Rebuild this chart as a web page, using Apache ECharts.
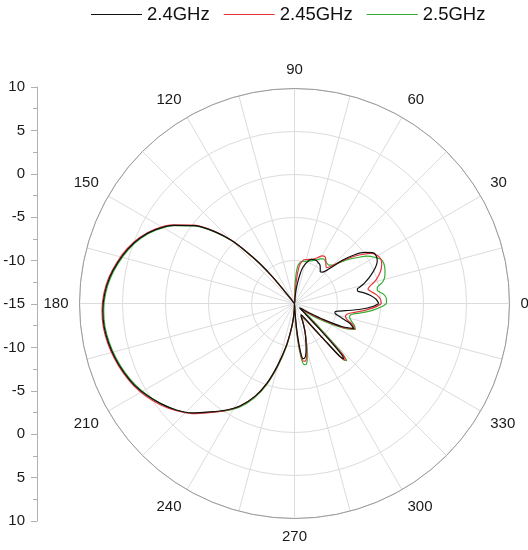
<!DOCTYPE html>
<html>
<head>
<meta charset="utf-8">
<script src="https://cdn.jsdelivr.net/npm/echarts@6/dist/echarts.min.js"></script>
<style>
html,body{margin:0;padding:0;background:#fff;}
#chart{width:528px;height:550px;}
</style>
</head>
<body>
<div id="chart"></div>
<script>
// ---- data (angle in degrees, gain in dB) ----
var seriesNames = ['2.4GHz', '2.45GHz', '2.5GHz'];
var angles = [0,3,6,9,11,13,14,16,20,24,27,30,
  33,36,39,42,45,48,51,54,57,60,63,66,69,72,75,78,81,83,85,87,89,91,
  95,100,110,120,126,128,
  129.5,131,133,135,138,142,147,152,157,162,167,172,177,182,187,192,197,202,207,212,217,222,227,232,237,242,247,251,255,259,262,265,268,
  271,273,275,277,279,281,283,285,287,289,291,294,297,
  300,302,304,306,308,309.5,310.5,311.5,312.5,313.5,314.5,316,318,320,
  323,326,328,331,334,337,340,343,346,348,350,352,355,358,360];
var gain24 = [-5.2,-5.5,-6.1,-6.9,-7.5,-7.5,-7.2,-6.6,-5.6,-4.7,-4.2,-4.0,
  -4.15,-4.9,-6.0,-7.5,-9.3,-10.1,-10.25,-9.9,-9.6,-9.5,-9.4,-9.4,-9.5,-9.8,-10.3,-11.0,-12.3,-13.2,-14.3,-15,-15,-15,
  -15,-15,-15,-15,-15,-14.2,
  -11.0,-8.8,-6.6,-4.6,-2.5,-0.3,1.7,3.3,4.5,5.4,6.1,6.7,7.1,7.3,7.3,7.1,6.8,6.4,5.9,5.2,4.4,3.5,2.4,1.0,-0.2,-1.5,-3.3,-5.2,-7.7,-10.0,-11.7,-13.0,-14.2,
  -15,-14.2,-11.8,-9.4,-8.5,-8.6,-9.1,-9.8,-10.5,-11.1,-11.7,-12.6,-13.3,
  -13.5,-13.4,-13.1,-12.5,-11.2,-9.3,-7.0,-6.4,-6.7,-8.8,-11.3,-13.2,-14.0,-14.2,
  -14.2,-13.5,-12.8,-11.2,-8.9,-7.5,-8.1,-9.3,-10.1,-10.2,-9.9,-9.0,-7.3,-5.8,-5.2];
var gain245 = [-4.9,-5.0,-5.4,-6.0,-6.3,-6.0,-5.7,-5.15,-4.4,-3.9,-3.7,-3.85,
  -4.3,-5.3,-6.4,-7.6,-8.8,-9.4,-9.2,-8.8,-8.5,-8.6,-9.0,-9.3,-9.5,-9.6,-9.7,-9.8,-10.2,-10.7,-12.0,-13.8,-15,-15,
  -15,-15,-15,-15,-15,-14.3,
  -11.2,-8.9,-6.6,-4.5,-2.4,-0.2,1.8,3.4,4.6,5.5,6.2,6.8,7.2,7.4,7.4,7.2,6.9,6.5,6.0,5.35,4.55,3.6,2.5,1.1,-0.15,-1.5,-3.3,-5.2,-7.6,-9.9,-11.6,-13.0,-14.3,
  -15,-13.8,-11.3,-9.0,-8.2,-8.2,-8.7,-9.5,-10.3,-11.0,-11.6,-12.5,-13.2,
  -13.4,-13.2,-12.8,-12.2,-11.0,-9.1,-7.0,-6.2,-6.3,-7.8,-10.3,-12.6,-13.7,-14.0,
  -14.0,-13.0,-12.1,-10.6,-8.6,-7.4,-7.8,-8.6,-8.9,-8.8,-8.5,-7.8,-6.6,-5.4,-4.9];
var gain25 = [-4.3,-4.3,-4.6,-5.25,-5.2,-4.65,-4.4,-4.1,-3.8,-3.62,-3.7,-4.25,
  -4.9,-5.9,-6.8,-7.8,-8.7,-9.0,-9.0,-8.9,-8.8,-9.0,-9.3,-9.5,-9.7,-9.8,-9.9,-10.0,-10.1,-10.3,-10.6,-11.6,-13.4,-15,
  -15,-15,-15,-15,-15,-14.4,
  -11.3,-9.0,-6.8,-4.7,-2.6,-0.4,1.6,3.2,4.4,5.3,6.0,6.6,7.0,7.2,7.2,7.0,6.7,6.3,5.8,5.15,4.4,3.5,2.45,1.05,-0.1,-1.35,-3.1,-5.0,-7.4,-9.7,-11.5,-13.0,-14.4,
  -15,-13.2,-10.6,-8.6,-7.8,-7.8,-8.4,-9.3,-10.2,-11.0,-11.7,-12.5,-13.0,
  -13.2,-13.0,-12.7,-12.2,-11.0,-9.4,-7.4,-6.2,-6.0,-6.8,-8.5,-11.0,-12.8,-13.5,
  -13.6,-12.3,-11.5,-10.0,-8.3,-7.3,-7.6,-8.1,-8.4,-8.4,-8.0,-7.2,-5.9,-4.8,-4.3];
var angleTickLabels = ['0','30','60','90','120','150','180','210','240','270','300','330'];
var leftTickLabels = ['10','5','0','-5','-10','-15','-10','-5','0','5','10'];
var colors = ['#111111', '#e3363a', '#35ad35'];

function pairs(vals) {
  var out = [];
  for (var i = 0; i < angles.length; i++) out.push([vals[i], angles[i]]);
  return out;
}

var FONT = '"Liberation Sans", Arial, Helvetica, sans-serif';
var chart = echarts.init(document.getElementById('chart'), null, {renderer: 'canvas'});
var gains = [gain24, gain245, gain25];
var series = [];
for (var k = 2; k >= 0; k--) {
  series.push({
    name: seriesNames[k],
    type: 'line',
    coordinateSystem: 'polar',
    polarIndex: 0,
    showSymbol: false,
    symbol: 'none',
    smooth: 0.25,
    data: pairs(gains[k]),
    lineStyle: {color: colors[k], width: 1.2},
    itemStyle: {color: colors[k]},
    animation: false,
    z: 3
  });
}

chart.setOption({
  animation: false,
  backgroundColor: '#ffffff',
  textStyle: {fontFamily: FONT},
  legend: {
    data: seriesNames,
    top: 0,
    left: 86,
    icon: 'rect',
    itemWidth: 51,
    itemHeight: 1,
    itemGap: 14,
    textStyle: {fontSize: 18.5, color: '#111', fontFamily: FONT}
  },
  polar: {center: [294.5, 303.5], radius: 215},
  angleAxis: {
    type: 'value',
    min: 0,
    max: 360,
    interval: 15,
    startAngle: 0,
    clockwise: false,
    axisLine: {show: true, lineStyle: {color: '#9a9a9a', width: 1}},
    axisTick: {show: false},
    axisLabel: {
      margin: 11,
      fontSize: 15,
      color: '#1a1a1a',
      fontFamily: FONT,
      formatter: function (v) {
        if (v % 30 !== 0 || v >= 360) return '';
        return angleTickLabels[v / 30];
      }
    },
    splitLine: {show: true, lineStyle: {color: '#dcdcdc', width: 1}}
  },
  radiusAxis: {
    type: 'value',
    min: -15,
    max: 10,
    interval: 5,
    axisLine: {show: false},
    axisTick: {show: false},
    axisLabel: {show: false},
    splitLine: {show: true, lineStyle: {color: '#dcdcdc', width: 1}}
  },
  grid: {left: 37, top: 87, height: 434, width: 10},
  xAxis: {type: 'value', show: false, gridIndex: 0},
  yAxis: {
    type: 'value',
    gridIndex: 0,
    min: -25,
    max: 25,
    interval: 5,
    position: 'left',
    axisLine: {show: true, lineStyle: {color: '#b0b0b0'}},
    axisTick: {show: true, length: 6, lineStyle: {color: '#b0b0b0'}},
    minorTick: {show: true, splitNumber: 2, length: 4, lineStyle: {color: '#b0b0b0'}},
    splitLine: {show: false},
    axisLabel: {
      margin: 12,
      fontSize: 15,
      color: '#1a1a1a',
      fontFamily: FONT,
      formatter: function (v) {
        var idx = Math.round((25 - v) / 5);
        return leftTickLabels[idx];
      }
    }
  },
  series: series
});
</script>
</body>
</html>
